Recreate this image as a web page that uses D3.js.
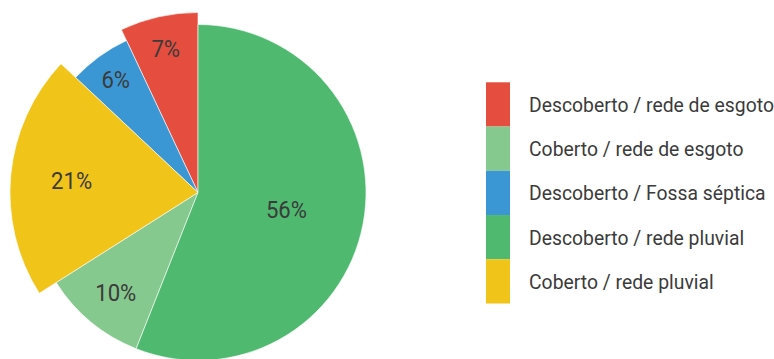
<!DOCTYPE html>
<html>
<head>
<meta charset="utf-8">
<script src="https://cdn.jsdelivr.net/npm/d3@7"></script>
<style>
  html, body { margin: 0; padding: 0; background: #fff; }
  svg { display: block; }
  text { font-family: "Roboto", sans-serif; fill: #3b3b3b; }
</style>
</head>
<body>
<div id="chart"></div>
<script>
// legend order
var categories = ["Descoberto / rede de esgoto", "Coberto / rede de esgoto", "Descoberto / Fossa séptica", "Descoberto / rede pluvial", "Coberto / rede pluvial"];
var values = [7, 10, 6, 56, 21];
var colors = ["#e54d3e", "#86c98e", "#3b97d3", "#4fba6f", "#f0c419"];
// order of the slices clockwise from 12 o'clock
var sliceOrder = ["Descoberto / rede pluvial", "Coberto / rede de esgoto", "Coberto / rede pluvial", "Descoberto / Fossa séptica", "Descoberto / rede de esgoto"];

var w = 774, h = 359,
  cx = 198, cy = 192.5,
  r = 168;

// some slices stick out further
var bigger = {"Descoberto / rede de esgoto": 180, "Coberto / rede pluvial": 188};
var labelR = {"Descoberto / rede pluvial": 90, "Coberto / rede de esgoto": 129, "Coberto / rede pluvial": 127,
  "Descoberto / Fossa séptica": 140, "Descoberto / rede de esgoto": 148};

var data = categories.map(function(c, i) { return {name: c, value: values[i], color: colors[i]}; });

var svg = d3.select('#chart').append('svg').attr('width', w).attr('height', h);

var pie = d3.pie()
  .value(function(d) { return d.value; })
  .sort(function(a, b) { return sliceOrder.indexOf(a.name) - sliceOrder.indexOf(b.name); });

var arcs = pie(data);

var g = svg.append('g').attr('transform', 'translate(' + cx + ',' + cy + ')');

var arc = d3.arc().innerRadius(0).outerRadius(function(d) { return bigger[d.data.name] || r; });

g.selectAll('path.slice')
  .data(arcs)
  .enter()
  .append('path')
  .attr('class', 'slice')
  .attr('d', arc)
  .style('fill', function(d) { return d.data.color; })
  .style('stroke', '#fff')
  .style('stroke-width', 0.6);

// legend
var ly = d3.scaleBand().domain(categories).range([82.3, 303.5]);

var legend = svg.append('g').attr('class', 'legend');

legend.selectAll('rect')
  .data(data)
  .enter()
  .append('rect')
  .attr('x', 486)
  .attr('y', function(d) { return ly(d.name); })
  .attr('width', 24)
  .attr('height', ly.bandwidth())
  .style('fill', function(d) { return d.color; });

var ltext = legend.selectAll('text')
  .data(data)
  .enter()
  .append('text')
  .attr('dy', '0.36em')
  .style('font-size', '21px')
  .text(function(d) { return d.name; });

// the original font is a condensed one, squeeze roboto to fit
var k = 245 / ltext.node().getComputedTextLength();

ltext.attr('transform', function(d) {
  return 'translate(529,' + (ly(d.name) + ly.bandwidth() / 2) + ') scale(' + k + ',1)';
});

g.selectAll('text.lbl')
  .data(arcs)
  .enter()
  .append('text')
  .attr('class', 'lbl')
  .attr('transform', function(d) {
    var lr = labelR[d.data.name];
    var c = d3.arc().innerRadius(lr).outerRadius(lr).centroid(d);
    return 'translate(' + c[0] + ',' + c[1] + ') scale(' + k + ',1)';
  })
  .attr('text-anchor', 'middle')
  .attr('dy', '0.36em')
  .style('font-size', '24px')
  .text(function(d) { return d.data.value + '%'; });
</script>
</body>
</html>
